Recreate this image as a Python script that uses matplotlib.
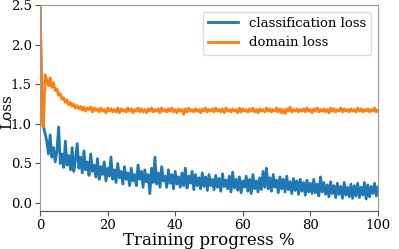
import numpy as np
import matplotlib
matplotlib.use("Agg")
import matplotlib.pyplot as plt

plt.rcParams['font.family'] = 'DejaVu Serif'

# training progress (%) - fine steps at the very start, then every 0.5 %
progress_start = [0.0, 0.25, 0.5, 0.75, 1.0, 1.25, 1.5]
progress_main = list(np.arange(2.0, 100.01, 0.5))
progress = progress_start + progress_main

cls_start = [2.7, 1.9, 1.35, 1.05, 0.98, 0.92, 0.88]
cls_main = [
    0.78, 0.62, 0.86, 0.58, 0.70, 0.52, 0.66, 0.96, 0.50, 0.62,
    0.45, 0.78, 0.48, 0.60, 0.42, 0.70, 0.40, 0.55, 0.75, 0.44,
    0.58, 0.38, 0.66, 0.42, 0.52, 0.35, 0.62, 0.40, 0.48, 0.33,
    0.56, 0.30, 0.46, 0.36, 0.52, 0.28, 0.44, 0.34, 0.58, 0.30,
    0.42, 0.26, 0.50, 0.32, 0.40, 0.24, 0.46, 0.30, 0.38, 0.22,
    0.44, 0.28, 0.36, 0.22, 0.48, 0.30, 0.40, 0.20, 0.42, 0.27,
    0.36, 0.12, 0.44, 0.26, 0.58, 0.24, 0.38, 0.20, 0.46, 0.28,
    0.34, 0.20, 0.42, 0.25, 0.36, 0.18, 0.40, 0.24, 0.33, 0.20,
    0.38, 0.22, 0.44, 0.19, 0.34, 0.25, 0.40, 0.17, 0.36, 0.22,
    0.32, 0.18, 0.38, 0.21, 0.33, 0.16, 0.36, 0.22, 0.30, 0.17,
    0.35, 0.20, 0.31, 0.15, 0.37, 0.21, 0.29, 0.18, 0.34, 0.14,
    0.39, 0.19, 0.30, 0.16, 0.33, 0.13, 0.28, 0.20, 0.34, 0.15,
    0.30, 0.12, 0.36, 0.18, 0.28, 0.14, 0.32, 0.17, 0.40, 0.20,
    0.44, 0.18, 0.32, 0.15, 0.36, 0.20, 0.29, 0.13, 0.33, 0.18,
    0.30, 0.14, 0.34, 0.17, 0.27, 0.12, 0.31, 0.16, 0.28, 0.11,
    0.30, 0.15, 0.26, 0.10, 0.29, 0.14, 0.25, 0.12, 0.30, 0.13,
    0.24, 0.09, 0.33, 0.14, 0.26, 0.11, 0.23, 0.08, 0.27, 0.12,
    0.22, 0.07, 0.25, 0.11, 0.21, 0.06, 0.26, 0.10, 0.20, 0.08,
    0.24, 0.06, 0.22, 0.09, 0.25, 0.07, 0.20, 0.10, 0.26, 0.05,
    0.23, 0.08, 0.21, 0.12, 0.25, 0.09, 0.20,
]
cls_loss = cls_start + cls_main

dom_start = [2.6, 2.0, 1.2, 0.98, 0.96, 1.3, 1.62]
dom_main = [
    1.55, 1.48, 1.58, 1.46, 1.52, 1.42, 1.44, 1.36, 1.38, 1.31,
    1.33, 1.27, 1.30, 1.24, 1.27, 1.22, 1.25, 1.20, 1.23, 1.19,
    1.22, 1.17, 1.21, 1.16, 1.20, 1.18, 1.21, 1.15, 1.20, 1.17,
    1.19, 1.15, 1.20, 1.16, 1.18, 1.14, 1.20, 1.16, 1.19, 1.15,
    1.18, 1.15, 1.20, 1.14, 1.19, 1.16, 1.18, 1.15, 1.20, 1.16,
    1.19, 1.14, 1.18, 1.16, 1.20, 1.15, 1.19, 1.15, 1.18, 1.14,
    1.19, 1.16, 1.20, 1.15, 1.18, 1.16, 1.19, 1.14, 1.20, 1.16,
    1.18, 1.15, 1.19, 1.16, 1.20, 1.15, 1.18, 1.14, 1.19, 1.16,
    1.18, 1.12, 1.19, 1.15, 1.20, 1.16, 1.18, 1.15, 1.19, 1.16,
    1.18, 1.14, 1.19, 1.16, 1.20, 1.15, 1.18, 1.16, 1.19, 1.15,
    1.20, 1.16, 1.18, 1.15, 1.19, 1.14, 1.20, 1.16, 1.18, 1.15,
    1.19, 1.16, 1.18, 1.14, 1.20, 1.15, 1.19, 1.16, 1.18, 1.15,
    1.19, 1.16, 1.20, 1.15, 1.18, 1.14, 1.19, 1.16, 1.18, 1.15,
    1.20, 1.16, 1.19, 1.15, 1.18, 1.16, 1.20, 1.15, 1.19, 1.14,
    1.18, 1.13, 1.19, 1.16, 1.21, 1.15, 1.18, 1.16, 1.19, 1.15,
    1.18, 1.16, 1.19, 1.15, 1.20, 1.16, 1.18, 1.14, 1.19, 1.16,
    1.20, 1.15, 1.18, 1.16, 1.19, 1.15, 1.18, 1.14, 1.20, 1.16,
    1.19, 1.15, 1.18, 1.16, 1.20, 1.15, 1.19, 1.16, 1.18, 1.15,
    1.19, 1.16, 1.18, 1.15, 1.20, 1.16, 1.19, 1.15, 1.18, 1.16,
    1.19, 1.15, 1.18, 1.16, 1.20, 1.15, 1.17,
]
dom_loss = dom_start + dom_main

fig = plt.figure(figsize=(3.99, 2.49), dpi=100)
ax = fig.add_axes([0.1003, 0.1526, 0.847, 0.8274])

ax.plot(progress, cls_loss, color='#1f77b4', lw=2.0, label='classification loss')
ax.plot(progress, dom_loss, color='#ff7f0e', lw=2.0, label='domain loss')

ax.set_xlim(0, 100)
ax.set_ylim(-0.1, 2.5)
ax.set_yticks([0.0, 0.5, 1.0, 1.5, 2.0, 2.5])
ax.set_xticks([0, 20, 40, 60, 80, 100])
ax.tick_params(labelsize=9.5, length=3.5, pad=2.5, color='#555555')
ax.set_xlabel('Training progress %', fontsize=12, labelpad=0)
ax.set_ylabel('Loss', fontsize=11)
ax.yaxis.set_label_coords(-0.077, 0.48)

for side in ['top', 'right', 'left']:
    ax.spines[side].set_color('#999999')
ax.spines['bottom'].set_color('#555555')

ax.legend(loc='upper right', fontsize=9.5, handlelength=2.3, framealpha=1,
          edgecolor='#dddddd', borderaxespad=0.5)

fig.savefig('out.png', dpi=100)
